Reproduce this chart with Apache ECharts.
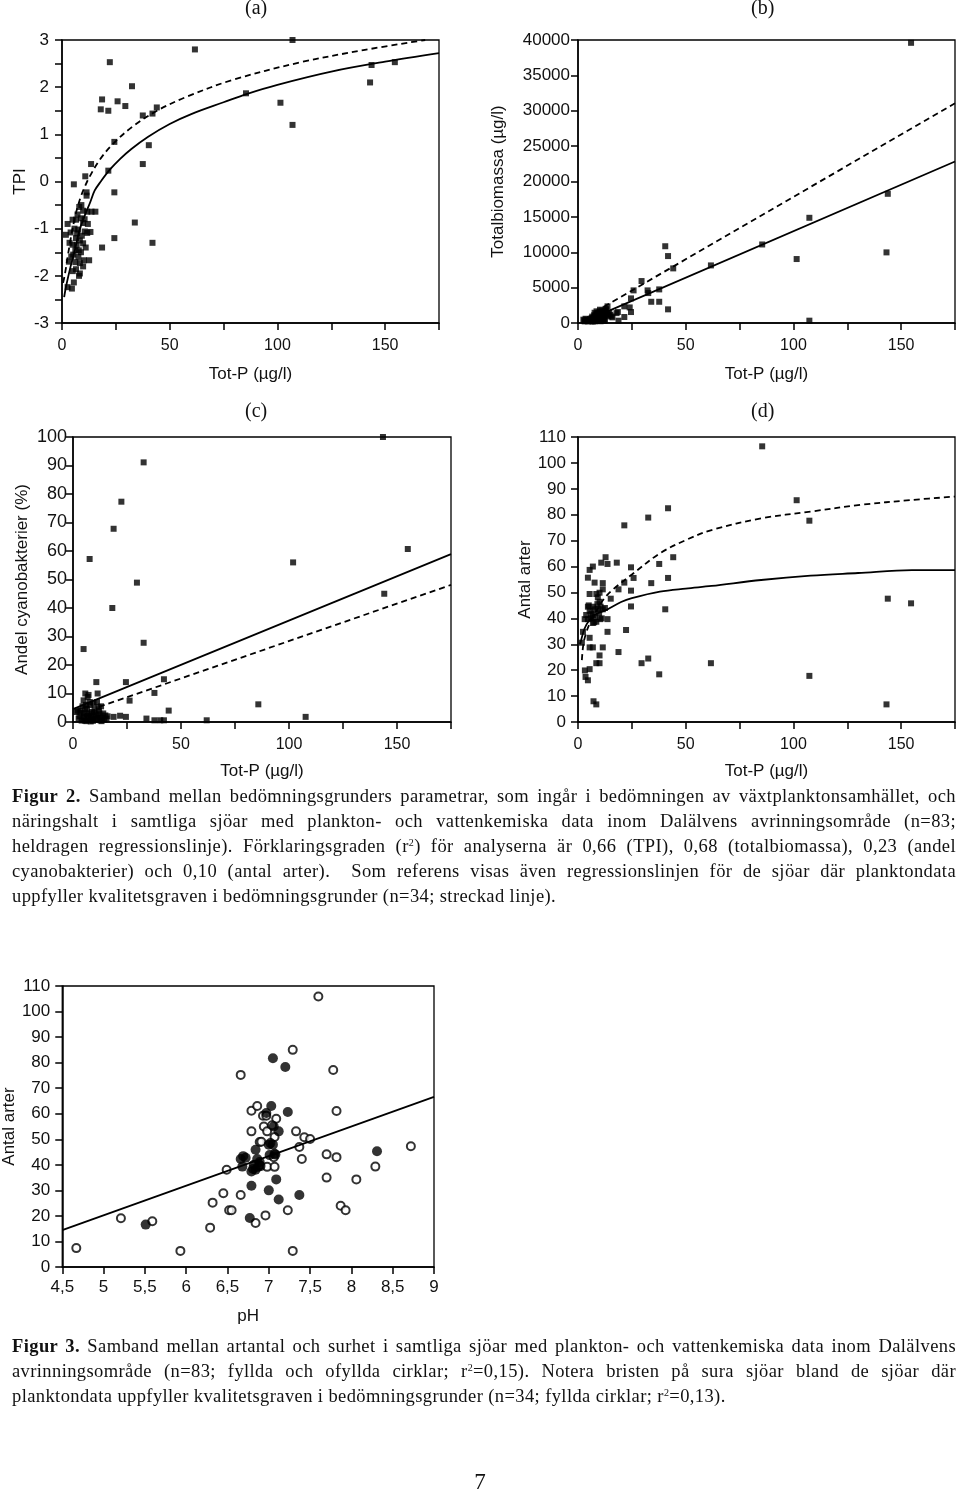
<!DOCTYPE html>
<html><head><meta charset="utf-8">
<script src="https://cdn.jsdelivr.net/npm/echarts@6/dist/echarts.min.js"></script>
<style>
html,body{margin:0;padding:0;background:#fff;}
#c{position:absolute;left:0;top:0;width:960px;height:1496px;}
.cap{position:absolute;left:12px;width:944px;font-family:"Liberation Serif","DejaVu Serif",serif;font-size:18.5px;letter-spacing:0.4px;color:#111;line-height:25px;}
.cap .l{text-align:justify;text-align-last:justify;white-space:nowrap;}
.cap .e{text-align:left;white-space:nowrap;}
.cap b{font-weight:bold;}
.cap sup{font-size:10px;line-height:0;vertical-align:6px;}
#pg{position:absolute;left:0;width:960px;top:1469px;text-align:center;font-family:"Liberation Serif",serif;font-size:23px;color:#111;}
</style>
</head><body>
<div id="c"></div>
<div class="cap" style="top:784px">
<div class="l"><b>Figur 2.</b> Samband mellan bedömningsgrunders parametrar, som ingår i bedömningen av växtplanktonsamhället, och</div>
<div class="l">näringshalt i samtliga sjöar med plankton- och vattenkemiska data inom Dalälvens avrinningsområde (n=83;</div>
<div class="l">heldragen regressionslinje). Förklaringsgraden (r<sup>2</sup>) för analyserna är 0,66 (TPI), 0,68 (totalbiomassa), 0,23 (andel</div>
<div class="l">cyanobakterier) och 0,10 (antal arter).&nbsp; Som referens visas även regressionslinjen för de sjöar där planktondata</div>
<div class="e">uppfyller kvalitetsgraven i bedömningsgrunder (n=34; streckad linje).</div>
</div>
<div class="cap" style="top:1334px">
<div class="l"><b>Figur 3.</b> Samband mellan artantal och surhet i samtliga sjöar med plankton- och vattenkemiska data inom Dalälvens</div>
<div class="l">avrinningsområde (n=83; fyllda och ofyllda cirklar; r<sup>2</sup>=0,15). Notera bristen på sura sjöar bland de sjöar där</div>
<div class="e">planktondata uppfyller kvalitetsgraven i bedömningsgrunder (n=34; fyllda cirklar; r<sup>2</sup>=0,13).</div>
</div>
<div id="pg">7</div>
<script>
// ---- (a) TPI vs Tot-P ----
var tpiPoints = [[61.7,2.80],[107,3.0],[143.7,2.47],[154.5,2.53],[143,2.10],[101.4,1.67],[107,1.20],[85.4,1.87],[22.2,2.53],[32.5,2.02],[18.6,1.74],[18,1.53],[21.5,1.50],[25.8,1.70],[29.4,1.60],[37.5,1.40],[42,1.44],[44,1.57],[24.3,0.84],[40.3,0.77],[37.5,0.37],[21.5,0.23],[13.5,0.37],[10.8,0.11],[5.5,-0.06],[24.3,-0.23],[11.4,-0.23],[11.4,-0.30],[33.8,-0.87],[24.3,-1.20],[42,-1.30],[18.6,-1.40],
[8,-0.54],[9.8,-0.62],[11.7,-0.64],[13.7,-0.64],[15.5,-0.64],[8.8,-0.78],[9.8,-0.88],[6.5,-0.81],[4.9,-0.81],[2.6,-0.90],[1.8,-1.13],[4,-1.08],[7.5,-1.02],[10.6,-1.06],[13.2,-1.07],[11.7,-1.09],[6.5,-1.2],[8.3,-1.25],[9.8,-1.31],[4.9,-1.34],[6.2,-1.46],[7.8,-1.46],[4.3,-1.59],[6.2,-1.71],[8.3,-1.73],[10.2,-1.67],[12.6,-1.67],[9.8,-1.8],[6.5,-1.86],[8.3,-1.95],[5.5,-2.14],[2.6,-2.24],[4.6,-2.27],[7,-1.1],[5.8,-1.0],[9.2,-1.15],[7.2,-0.7],[3.5,-1.3],[5.2,-1.55],[7.6,-1.6],[10.5,-0.8],[6.8,-1.35],[8.8,-1.5],[12,-0.9],[3.2,-1.7],[9,-0.5],[5,-1.9],[11,-1.4],[7.9,-2.0]];
var tpiAll = [[1,-2.45],[2,-2.2],[4,-1.8],[6,-1.45],[8,-1.05],[10.6,-0.72],[13,-0.45],[15.2,-0.19],[18,0.0],[22.2,0.25],[27,0.48],[32.2,0.69],[40,0.95],[50,1.22],[60,1.43],[75,1.68],[86,1.86],[100,2.05],[125,2.33],[150,2.54],[175,2.72]];
var tpiRef = [[0.5,-2.15],[1.4,-1.95],[3.7,-1.3],[6,-0.76],[8.3,-0.38],[10.5,-0.12],[12.9,0.11],[17.5,0.46],[23.7,0.8],[32.9,1.17],[43.7,1.49],[57.5,1.79],[79,2.15],[110,2.52],[140.6,2.79],[168.6,3.0]];

// ---- (b) Totalbiomassa vs Tot-P ----
var bioPoints = [[154.6,39600],[143.8,18260],[143.2,9980],[107.4,14870],[101.5,9040],[107.4,330],[85.5,11100],[61.7,8140],[40.5,10850],[41.8,9460],[44.2,7720],[29.5,5930],[25.8,4610],[32.3,4610],[32.6,4230],[37.7,4750],[34,3000],[37.7,3000],[41.8,1930],[24.6,3480],[21.5,2350],[24.6,1550],[18.5,1550],[18.8,330],[21.5,850],[13.7,2350],[24,2200],[17.9,1400],
[2.5,470],[4,470],[5.5,560],[6.3,700],[7.8,940],[8.6,560],[9.4,1410],[10.2,1880],[10.9,940],[11.7,1180],[12.5,1650],[13.3,1180],[12.5,470],[7,230],[4.6,230],[10.2,470],[14,940],[15.6,940],[8.6,1650],[10.9,1530],[6.3,230],[3.1,230],[7.8,230],[11.7,470],[9,300],[5,400],[8,800],[9.8,700],[11,1200],[12,900],[13,1900],[6,500],[7.5,1100],[10.5,250],[8.5,1300],[14.5,1500],[3.5,600],[9.5,1000],[11.5,650],[6.8,350],[16,800],[12.8,2000],[10,1600],[7.2,700],[5.8,300],[4.2,300],[8.2,450],[9.2,1150],[13.8,1350],[6.6,900],[11.2,1750],[12.2,300],[15,1150],[3,350],[7.7,1450]];
var bioAll = [[3,220],[175,22820]];
var bioRef = [[12,2300],[175,31060]];

// ---- (c) Andel cyanobakterier vs Tot-P ----
var cyaPoints = [[143.5,100],[32.7,91.1],[22.4,77.3],[18.8,67.8],[7.7,57.2],[29.6,48.9],[18.2,40],[32.7,27.8],[4.9,25.6],[101.9,56],[155,60.7],[144.1,45],[85.8,6.2],[107.7,1.8],[61.9,0.6],[44.3,4],[42.1,15],[37.7,10.2],[26.2,7.5],[24.5,14],[10.8,14],[11.4,10],[24.5,1.8],[21.8,2.2],[18.8,1.8],[34,1.2],[37.7,0.6],[40.4,0.6],[42.1,0.6],
[5.7,10],[6.8,8.8],[4.9,7.6],[11.1,7],[8,5.9],[3.4,4],[1.5,3.5],[6.5,2.9],[9.6,2.3],[12.7,2.3],[15,2.3],[4.9,1.2],[8,0.8],[11.1,0.8],[2.6,1.2],[5.7,4.7],[8.8,3.5],[12.7,0.6],[7,1.5],[9,1],[10,4.5],[6,6],[7.5,3],[13.5,1.5],[14,3],[3,2],[5.5,0.5],[9.5,6.5],[10.5,2.5],[12,4],[4,0.5],[7.2,9.5],[6.2,0.3],[8.5,2],[11.5,1.5],[13,5.5],[16,2],[2.2,4],[5,3],[9.2,0.4],[10.8,1],[7.8,7],[6.5,4.8],[8.2,0.2],[12.2,3],[3.8,3.2],[14.5,0.8],[5.2,1.8],[11.8,5.2],[9.8,3.3],[6.8,2.1],[4.4,5.5],[15.5,1.2],[13.2,0.3]];
var cyaAll = [[0,4.5],[175,58.9]];
var cyaRef = [[12,5.3],[175,48.1]];

// ---- (d) Antal arter vs Tot-P ----
var artPoints = [[85.5,106.4],[101.5,85.6],[107.4,77.7],[41.8,82.5],[32.6,78.9],[21.5,75.9],[44.2,63.6],[37.7,61],[41.8,55.6],[34,53.6],[40.5,43.5],[143.8,47.6],[154.6,45.8],[61.7,22.7],[107.4,17.8],[143.2,6.8],[29.5,22.7],[32.6,24.5],[37.7,18.4],[22.3,35.5],[18.8,27],[24.6,59.7],[25.8,55.6],[21.5,53.8],[24.6,50.7],[24.6,44.6],[18,61.5],[18.8,51.2],[15.2,47.6],[12.8,63.6],[13.7,61],[10.8,61.5],[11.5,53.6],[11.5,51.2],[13.7,39.7],[13.7,34.8],[11.5,28.8],[10,25.7],[10,22.7],[8.5,22.7],[6.9,28.8],[5.4,28.8],[5.4,32.5],[4.6,55.7],[5.4,58.7],[6.9,60],[7.7,53.8],[5.4,49.4],[8.5,49.4],[9.2,48.1],[10,49.9],[10,46.4],[4.6,44.5],[5.4,42.9],[6.9,41.3],[7.7,43.5],[9.2,43.5],[11.5,43.5],[3.1,39.7],[4.6,39.7],[6.9,38.2],[8.5,38.7],[10.3,39.7],[2.3,34.8],[1.8,30.6],[3.2,19.9],[5.4,20.4],[3.5,17.4],[4.6,16.1],[7.2,8],[8.5,6.8],[6.2,41.8],[3.8,41.3],[7,44.5],[8,40.5],[9.8,42],[6,40],[11,40],[12.5,44],[9,45.5],[5,45],[7.5,38.5],[10.5,44.5]];
var artAll = [[1,30],[3,36],[5,39],[8,41.5],[13,43.2],[20,46.3],[25,47.8],[38,50.3],[50,51.5],[62,52.5],[85,54.8],[108,56.5],[130,57.5],[155,58.6],[175,58.6]];
var artRef = [[1.8,23.9],[2.5,30],[4,35],[6,39],[9,43.5],[12,47.5],[16,51],[25,56.9],[38,65.1],[50,70.2],[62,74.1],[85,78.6],[108,81.2],[131,83.8],[155,85.7],[175,87]];

// ---- Figur 3: Antal arter vs pH ----
var phOpen = [[4.67,7.4],[5.21,19.1],[5.59,17.9],[5.93,6.3],[6.29,15.4],[6.32,25.2],[6.45,28.9],[6.49,38.1],[6.52,22.2],[6.55,22.2],[6.66,75.2],[6.66,28.2],[6.79,61.2],[6.79,53.1],[6.86,63],[6.84,17.2],[6.96,20.2],[6.93,59.2],[6.97,59.2],[7.09,58],[6.94,55],[6.98,53.1],[7.04,55.5],[7.07,50.9],[6.89,48.9],[6.91,49],[6.89,39.8],[6.98,39.2],[7.07,39.2],[7.06,43],[7.29,85],[7.6,105.9],[7.78,77.1],[7.82,61.1],[7.33,53.1],[7.43,50.8],[7.5,50.1],[7.37,47],[7.4,42.3],[7.7,44.1],[7.82,43],[7.7,35],[8.06,34.3],[7.87,24],[7.93,22.2],[7.23,22.2],[7.29,6.3],[8.29,39.3],[8.72,47.3]];
var phFilled = [[5.51,16.6],[6.66,42.3],[6.69,43.4],[6.72,42.8],[6.68,39.3],[6.77,19.2],[6.79,31.8],[6.79,37.4],[6.84,38.1],[6.84,45.9],[6.86,42.3],[6.89,41.1],[6.97,60.3],[7.03,63],[7.05,81.7],[7.2,78.3],[7.23,60.7],[7.0,47.9],[7.05,47.9],[7.01,43.8],[7.07,44.3],[7.06,55],[7.12,53.1],[7.09,34.3],[7.0,30],[7.12,26.4],[7.37,28.2],[8.31,45.3],[6.82,40],[6.9,39.5],[7.02,48.5],[7.08,44],[6.87,39.2],[6.81,38.4]];
var phLine = [[4.5,14.4],[9,66.6]];

var FONT = '"Liberation Sans", Arial, sans-serif';
function ax(idx, min, max, interval, name, labelFn, margin, nameGap, labelSize){
  return {type:'value', gridIndex:idx, min:min, max:max, interval:interval,
    name:name, nameLocation:'middle', nameGap:nameGap,
    nameTextStyle:{fontFamily:FONT, fontSize:17, color:'#111'},
    axisLine:{show:true, onZero:false, lineStyle:{color:'#000', width:1.5}},
    axisTick:{show:true, inside:false, length:7, lineStyle:{color:'#000', width:1.5}},
    splitLine:{show:false},
    axisLabel:{fontFamily:FONT, fontSize:labelSize, color:'#111', margin:margin, formatter:labelFn, showMinLabel:true, showMaxLabel:true}};
}
function every(step){ return function(v){ return (Math.abs(v/step - Math.round(v/step)) < 1e-6) ? String(v) : ''; }; }
function comma(v){ return String(v).replace('.', ','); }

function sq(idx, data){ return {type:'scatter', xAxisIndex:idx, yAxisIndex:idx, data:data, symbol:'rect', symbolSize:6, itemStyle:{color:'#000'}, silent:true, z:3}; }
function ln(idx, data, dashed, smooth){ return {type:'line', xAxisIndex:idx, yAxisIndex:idx, data:data, showSymbol:false, smooth:smooth?0.35:false, clip:true,
   lineStyle:{color:'#000', width:1.8, type: dashed ? [6,4] : 'solid'}, silent:true, z:4}; }

var gridBase = {show:true, borderColor:'#000', borderWidth:1.3, backgroundColor:'transparent', containLabel:false};
var titleFont = '20px "Liberation Serif", serif';
var option = {
  animation:false,
  backgroundColor:'#fff',
  grid:[
    Object.assign({left:62, top:40, width:377, height:283}, gridBase),
    Object.assign({left:578, top:40, width:377, height:283}, gridBase),
    Object.assign({left:73, top:437, width:378, height:285}, gridBase),
    Object.assign({left:578, top:437, width:377, height:285}, gridBase),
    Object.assign({left:60, top:986, width:374, height:281}, gridBase)
  ],
  xAxis:[
    ax(0, 0, 175, 25, 'Tot-P (µg/l)', every(50), 15, 43, 16),
    ax(1, 0, 175, 25, 'Tot-P (µg/l)', every(50), 15, 43, 16),
    ax(2, 0, 175, 25, 'Tot-P (µg/l)', every(50), 15, 41, 16),
    ax(3, 0, 175, 25, 'Tot-P (µg/l)', every(50), 15, 41, 16),
    ax(4, 4.5, 9, 0.5, 'pH', comma, 12, 41, 17)
  ],
  yAxis:[
    ax(0, -3, 3, 0.5, 'TPI', every(1), 13, 33, 17),
    ax(1, 0, 40000, 5000, 'Totalbiomassa (µg/l)', every(5000), 8, 71, 17),
    ax(2, 0, 100, 10, 'Andel cyanobakterier (%)', every(10), 6, 42, 18),
    ax(3, 0, 110, 10, 'Antal arter', every(10), 12, 42, 17),
    ax(4, 0, 110, 10, 'Antal arter', every(10), 12, 43, 17)
  ],
  graphic:[
    {type:'text', left:245, top:-1, style:{text:'(a)', font:titleFont, fill:'#111'}},
    {type:'text', left:751, top:-1, style:{text:'(b)', font:titleFont, fill:'#111'}},
    {type:'text', left:245, top:402, style:{text:'(c)', font:titleFont, fill:'#111'}},
    {type:'text', left:751, top:402, style:{text:'(d)', font:titleFont, fill:'#111'}}
  ],
  series:[
    sq(0, tpiPoints), ln(0, tpiAll, false, true), ln(0, tpiRef, true, true),
    sq(1, bioPoints), ln(1, bioAll, false, false), ln(1, bioRef, true, false),
    sq(2, cyaPoints), ln(2, cyaAll, false, false), ln(2, cyaRef, true, false),
    sq(3, artPoints), ln(3, artAll, false, true), ln(3, artRef, true, true),
    {type:'scatter', xAxisIndex:4, yAxisIndex:4, data:phOpen, symbol:'circle', symbolSize:8, itemStyle:{color:'#fff', borderColor:'#000', borderWidth:2}, silent:true, z:3},
    {type:'scatter', xAxisIndex:4, yAxisIndex:4, data:phFilled, symbol:'circle', symbolSize:10, itemStyle:{color:'#000'}, silent:true, z:3},
    ln(4, phLine, false, false)
  ]
};
var chart = echarts.init(document.getElementById('c'), null, {renderer:'canvas'});
chart.setOption(option);
</script>
</body></html>
